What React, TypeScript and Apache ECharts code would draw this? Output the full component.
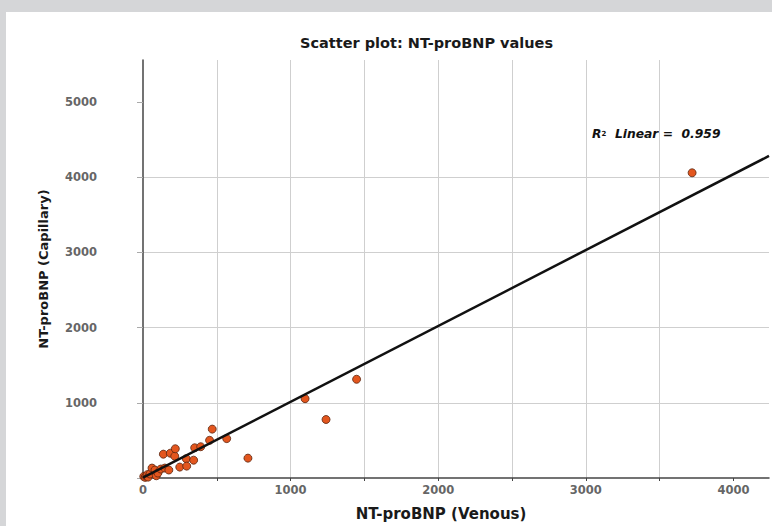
import React, { useEffect, useRef } from "react";
import * as echarts from "echarts";

// NT-proBNP values
const venous = [5, 15, 20, 30, 35, 47, 61, 81, 90, 101, 121, 138, 148, 175, 185, 215, 219, 249, 293, 296, 343, 350, 391, 451, 469, 567, 711, 1098, 1240, 1447, 3720];
const capillary = [20, 8, 26, 45, 12, 53, 132, 106, 30, 66, 119, 317, 132, 106, 330, 290, 389, 145, 257, 158, 237, 402, 416, 501, 650, 524, 264, 1055, 778, 1313, 4059];

// Linear fit line end points (R² = 0.959)
const fitX = [0, 4241];
const fitY = [5, 4283];

const xTickLabels = [0, 1000, 2000, 3000, 4000];
const yTickLabels = [1000, 2000, 3000, 4000, 5000];
const xTicks = [0, 500, 1000, 1500, 2000, 2500, 3000, 3500, 4000];
const yTicks = [0, 1000, 2000, 3000, 4000, 5000];

const FONT = "DejaVu Sans";

export default function App() {
  const ref = useRef<HTMLDivElement>(null);

  useEffect(() => {
    const chart = echarts.init(ref.current!, null, { renderer: "svg" });
    chart.setOption({
      animation: false,
      backgroundColor: "#ffffff",
      title: {
        text: "Scatter plot: NT-proBNP values",
        left: 294,
        top: 23,
        padding: 0,
        textStyle: { fontFamily: FONT, fontSize: 14.5, fontWeight: "bold", color: "#1a1a1a" },
      },
      grid: { left: 137, right: 3, top: 48, bottom: 43.5, containLabel: false },
      xAxis: {
        type: "value",
        min: 0,
        max: 4241,
        interval: 1000,
        name: "NT-proBNP (Venous)",
        nameLocation: "middle",
        nameGap: 28,
        nameTextStyle: {
          fontFamily: FONT,
          fontSize: 15,
          fontWeight: "bold",
          color: "#1a1a1a",
          padding: [0, 30, 0, 0],
        },
        axisLine: { show: true, onZero: false, lineStyle: { color: "#444", width: 1.5 } },
        axisTick: { show: true, customValues: xTicks, length: 3, lineStyle: { color: "#444" } },
        axisLabel: {
          customValues: xTickLabels,
          formatter: (v: number) => String(v),
          margin: 6,
          fontFamily: FONT,
          fontSize: 11.5,
          fontWeight: "bold",
          color: "#666",
        },
        splitLine: { show: true, showMinLine: false, showMaxLine: false, lineStyle: { color: "#cfcfcf", width: 1 } },
      },
      yAxis: {
        type: "value",
        min: 0,
        max: 5559,
        interval: 1000,
        name: "NT-proBNP (Capillary)",
        nameLocation: "middle",
        nameGap: 93,
        nameTextStyle: { fontFamily: FONT, fontSize: 13, fontWeight: "bold", color: "#1a1a1a" },
        axisLine: { show: true, onZero: false, lineStyle: { color: "#444", width: 1.5 } },
        axisTick: { show: true, customValues: yTicks, length: 6, lineStyle: { color: "#aaa" } },
        axisLabel: {
          customValues: yTickLabels,
          formatter: (v: number) => String(v),
          margin: 46,
          fontFamily: FONT,
          fontSize: 11.5,
          fontWeight: "bold",
          color: "#666",
        },
        splitLine: { show: true, showMinLine: false, showMaxLine: false, lineStyle: { color: "#cfcfcf", width: 1 } },
      },
      graphic: [
        {
          type: "text",
          x: 586,
          y: 122,
          style: {
            text: "{r|R}{s|2}{r|  Linear =  0.959}",
            verticalAlign: "middle",
            rich: {
              r: { fontFamily: FONT, fontSize: 12.3, fontWeight: "bold", fontStyle: "italic", fill: "#111" },
              s: { fontFamily: FONT, fontSize: 7, fontWeight: "bold", fill: "#111" },
            },
          },
        },
      ],
      series: [
        {
          type: "scatter",
          data: venous.map((v, i) => [v, capillary[i]]),
          symbolSize: 8,
          clip: false,
          itemStyle: { color: "#e3561e", borderColor: "#5b2610", borderWidth: 0.8, opacity: 1 },
          z: 3,
        },
        {
          type: "line",
          data: fitX.map((v, i) => [v, fitY[i]]),
          showSymbol: false,
          symbol: "none",
          lineStyle: { color: "#111", width: 2.5 },
          z: 4,
        },
      ],
    });
    return () => chart.dispose();
  }, []);

  return (
    <div
      style={{
        position: "absolute",
        left: 0,
        top: 0,
        width: 772,
        height: 526,
        background: "#d5d6d8",
      }}
    >
      <div
        ref={ref}
        style={{ position: "absolute", left: 6, top: 12, width: 766, height: 514, background: "#fff" }}
      />
    </div>
  );
}
